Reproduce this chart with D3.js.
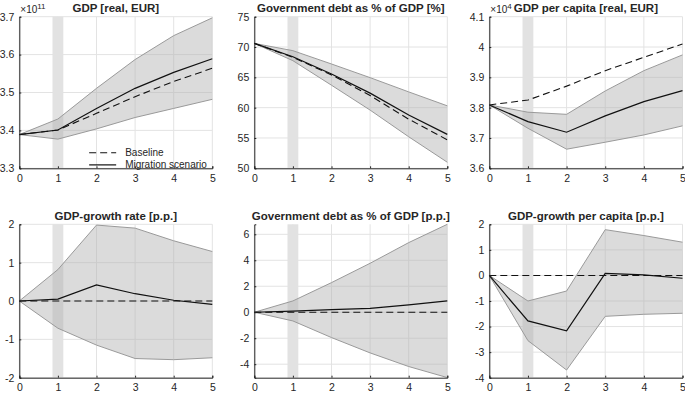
<!DOCTYPE html>
<html><head><meta charset="utf-8">
<script src="https://cdn.jsdelivr.net/npm/d3@7"></script>
<style>body{margin:0;background:#fff}svg{display:block}text{font-family:"Liberation Sans",Arial,sans-serif;fill:#262626}</style>
</head><body><svg id="c" width="685" height="397"></svg>
<script>
const periods = [0,1,2,3,4,5];
const shockBand = [0.86, 1.14];

const titles = ["GDP [real, EUR]","Government debt as % of GDP [%]","GDP per capita [real, EUR]",
  "GDP-growth rate [p.p.]","Government debt as % of GDP [p.p.]","GDP-growth per capita [p.p.]"];

// panel 1: GDP (x1e11)
const gdpBaseline  = [3.389,3.401,3.445,3.489,3.529,3.564];
const gdpMigration = [3.389,3.401,3.458,3.511,3.553,3.589];
const gdpUpper     = [3.389,3.430,3.511,3.587,3.650,3.697];
const gdpLower     = [3.389,3.377,3.404,3.434,3.458,3.482];
const gdpTicks = [3.3,3.4,3.5,3.6,3.7];
const gdpTickLabels = ["3.3","3.4","3.5","3.6","3.7"];

// panel 2: debt %
const debtBaseline  = [70.6,68.3,65.4,62.0,58.1,54.7];
const debtMigration = [70.6,68.4,65.55,62.4,58.8,55.6];
const debtUpper     = [70.6,69.4,67.2,64.95,62.6,60.3];
const debtLower     = [70.6,67.75,63.7,59.6,55.2,51.0];
const debtTicks = [50,55,60,65,70,75];
const debtTickLabels = ["50","55","60","65","70","75"];

// panel 3: GDP per capita (x1e4)
const gdppcBaseline  = [3.809,3.825,3.871,3.922,3.966,4.010];
const gdppcMigration = [3.809,3.754,3.719,3.773,3.820,3.856];
const gdppcUpper     = [3.809,3.785,3.778,3.855,3.922,3.974];
const gdppcLower     = [3.809,3.732,3.663,3.686,3.710,3.740];
const gdppcTicks = [3.6,3.7,3.8,3.9,4.0,4.1];
const gdppcTickLabels = ["3.6","3.7","3.8","3.9","4","4.1"];

// panel 4: GDP growth
const growthBaseline  = [0,0,0,0,0,0];
const growthMigration = [0,0.05,0.42,0.19,0.02,-0.09];
const growthUpper     = [0,0.82,1.98,1.90,1.57,1.29];
const growthLower     = [0,-0.71,-1.15,-1.50,-1.53,-1.48];
const growthTicks = [-2,-1,0,1,2];
const growthTickLabels = ["-2","-1","0","1","2"];

// panel 5: debt p.p.
const debtppBaseline  = [0,0,0,0,0,0];
const debtppMigration = [0,0.08,0.2,0.3,0.56,0.87];
const debtppUpper     = [0,0.87,2.28,3.77,5.36,6.77];
const debtppLower     = [0,-0.67,-1.95,-3.13,-4.18,-5.03];
const debtppTicks = [-4,-2,0,2,4,6];
const debtppTickLabels = ["-4","-2","0","2","4","6"];

// panel 6: GDP growth per capita
const growthpcBaseline  = [0,0,0,0,0,0];
const growthpcMigration = [0,-1.78,-2.17,0.08,0.02,-0.11];
const growthpcUpper     = [0,-1.0,-0.61,1.79,1.56,1.30];
const growthpcLower     = [0,-2.55,-3.70,-1.60,-1.52,-1.48];
const growthpcTicks = [-4,-3,-2,-1,0,1,2];
const growthpcTickLabels = ["-4","-3","-2","-1","0","1","2"];

const panels = [
  {title:titles[0], base:gdpBaseline, mig:gdpMigration, up:gdpUpper, lo:gdpLower, dom:[3.3,3.7], ticks:gdpTicks, labels:gdpTickLabels, exp:"11", legend:true},
  {title:titles[1], base:debtBaseline, mig:debtMigration, up:debtUpper, lo:debtLower, dom:[50,75], ticks:debtTicks, labels:debtTickLabels},
  {title:titles[2], base:gdppcBaseline, mig:gdppcMigration, up:gdppcUpper, lo:gdppcLower, dom:[3.6,4.1], ticks:gdppcTicks, labels:gdppcTickLabels, exp:"4"},
  {title:titles[3], base:growthBaseline, mig:growthMigration, up:growthUpper, lo:growthLower, dom:[-2,2], ticks:growthTicks, labels:growthTickLabels},
  {title:titles[4], base:debtppBaseline, mig:debtppMigration, up:debtppUpper, lo:debtppLower, dom:[-5.04,6.77], ticks:debtppTicks, labels:debtppTickLabels},
  {title:titles[5], base:growthpcBaseline, mig:growthpcMigration, up:growthpcUpper, lo:growthpcLower, dom:[-4,2], ticks:growthpcTicks, labels:growthpcTickLabels}
];

const cols = [[19.3,212.3],[254.3,447.3],[489.3,682.5]];
const rows = [[16.7,168.3],[224.3,377.7]];
const svg = d3.select("#c");

panels.forEach((p,i)=>{
  const [x0,x1] = cols[i%3], [y0,y1] = rows[Math.floor(i/3)];
  const x = d3.scaleLinear().domain([0,5]).range([x0,x1]);
  const y = d3.scaleLinear().domain(p.dom).range([y1,y0]);
  const g = svg.append("g");
  // grid
  g.selectAll(".vg").data(periods).join("line").attr("x1",d=>x(d)).attr("x2",d=>x(d)).attr("y1",y0).attr("y2",y1).attr("stroke","#e3e3e3").attr("stroke-width",1);
  g.selectAll(".hg").data(p.ticks).join("line").attr("x1",x0).attr("x2",x1).attr("y1",d=>y(d)).attr("y2",d=>y(d)).attr("stroke","#e3e3e3").attr("stroke-width",1);
  // shock bar
  g.append("rect").attr("x",x(shockBand[0])).attr("width",x(shockBand[1])-x(shockBand[0])).attr("y",y0).attr("height",y1-y0).attr("fill","#e2e2e2");
  // band
  const area = d3.area().x((d,j)=>x(periods[j])).y0((d,j)=>y(p.lo[j])).y1((d,j)=>y(p.up[j]));
  g.append("path").datum(p.up).attr("d",area).attr("fill","#b0b0b0").attr("fill-opacity",0.45);
  const ln = arr => d3.line().x((d,j)=>x(periods[j])).y(d=>y(d))(arr);
  g.append("path").attr("d",ln(p.up)).attr("fill","none").attr("stroke","#9a9a9a").attr("stroke-width",1);
  g.append("path").attr("d",ln(p.lo)).attr("fill","none").attr("stroke","#9a9a9a").attr("stroke-width",1);
  g.append("path").attr("d",ln(p.base)).attr("fill","none").attr("stroke","#111").attr("stroke-width",1.1).attr("stroke-dasharray","7,4");
  g.append("path").attr("d",ln(p.mig)).attr("fill","none").attr("stroke","#111").attr("stroke-width",1.2);
  // axes
  const xa = g.append("g").attr("transform",`translate(0,${y1})`).call(d3.axisBottom(x).tickValues(periods).tickFormat(d3.format("d")).tickSize(-2).tickPadding(6));
  const ya = g.append("g").attr("transform",`translate(${x0},0)`).call(d3.axisLeft(y).tickValues(p.ticks).tickFormat((d,j)=>p.labels[j]).tickSize(-2).tickPadding(5));
  [xa,ya].forEach(a=>{a.select(".domain").attr("stroke","#262626");a.selectAll(".tick line").attr("stroke","#262626");
    a.selectAll("text").attr("font-size",10.5).attr("fill","#262626").style("font-family","Liberation Sans, Arial, sans-serif");});
  xa.selectAll("text").attr("dy","0.71em");
  // title
  g.append("text").attr("x",(x0+x1)/2).attr("y",y0-4.5).attr("text-anchor","middle").attr("font-size",11.5).attr("font-weight","bold").text(p.title);
  if(p.exp){
    const t = g.append("text").attr("x",x0+1).attr("y",y0-3.5).attr("font-size",10);
    t.append("tspan").text("×10");
    t.append("tspan").attr("dy",-4.5).attr("font-size",8).text(p.exp);
  }
  if(p.legend){
    const lx = x(1.81), ly1 = y(3.341), ly2 = y(3.309);
    g.append("line").attr("x1",lx).attr("x2",lx+27).attr("y1",ly1).attr("y2",ly1).attr("stroke","#111").attr("stroke-width",1.1).attr("stroke-dasharray","7,4");
    g.append("line").attr("x1",lx).attr("x2",lx+27).attr("y1",ly2).attr("y2",ly2).attr("stroke","#111").attr("stroke-width",1.2);
    g.append("text").attr("x",lx+36).attr("y",ly1).attr("dy","0.35em").attr("font-size",10).text("Baseline");
    g.append("text").attr("x",lx+36).attr("y",ly2).attr("dy","0.35em").attr("font-size",10).text("Migration scenario");
  }
});
</script></body></html>
